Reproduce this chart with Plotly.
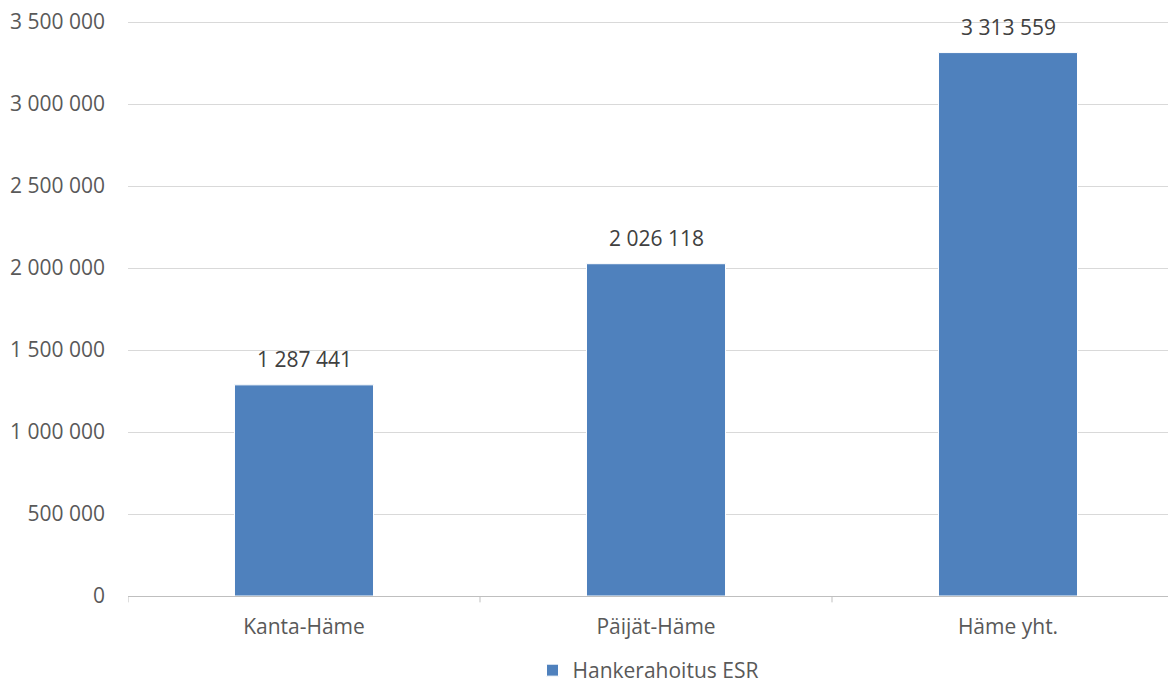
import plotly.graph_objects as go

categories = ["Kanta-Häme", "Päijät-Häme", "Häme yht."]
values = [1287441, 2026118, 3313559]
series_name = "Hankerahoitus ESR"
y_ticks = [0, 500000, 1000000, 1500000, 2000000, 2500000, 3000000, 3500000]

FONT = "Open Sans"
fig = go.Figure()
fig.add_trace(go.Bar(
    x=categories, y=values, name=series_name,
    marker=dict(color="#4F81BD", line=dict(color="white", width=1)),
    width=0.395,
))
for c, v in zip(categories, values):
    fig.add_annotation(x=c, y=v, xref="x", yref="y", text=f"{v:,}".replace(",", " "),
                       showarrow=False, yanchor="bottom", yshift=10,
                       font=dict(family=FONT, size=21, color="#404040"))
fig.update_layout(
    width=1168, height=691,
    margin=dict(l=128, r=0, t=19, b=95),
    paper_bgcolor="white", plot_bgcolor="white",
    font=dict(family=FONT, size=21, color="#595959"),
    separators=". ",
    showlegend=True,
    legend=dict(orientation="h", x=0.5, xanchor="center", y=-0.165, yanchor="bottom",
                font=dict(size=21, color="#595959")),
)
fig.update_xaxes(range=[-0.5, 2.4545], showline=True, linecolor="#bfbfbf", linewidth=1,
                 ticks="", showgrid=False, ticklabelstandoff=12,
                 tickfont=dict(size=21, color="#595959"))
fig.update_yaxes(range=[0, 3518300], tickvals=y_ticks, tickformat=",d",
                 showgrid=True, gridcolor="#d9d9d9", gridwidth=1, zeroline=False,
                 showline=False, ticks="", ticklabelstandoff=22, ticklabeloverflow="allow",
                 tickfont=dict(size=21, color="#595959"))
for xv in [-0.5, 0.5, 1.5]:
    fig.add_shape(type="line", xref="x", yref="paper", x0=xv, x1=xv, y0=0, y1=-0.011,
                  line=dict(color="#bfbfbf", width=1))
fig.write_html("out.html", config={"displayModeBar": False},
               post_script="document.body.style.margin='0';document.body.style.overflow='hidden';")
